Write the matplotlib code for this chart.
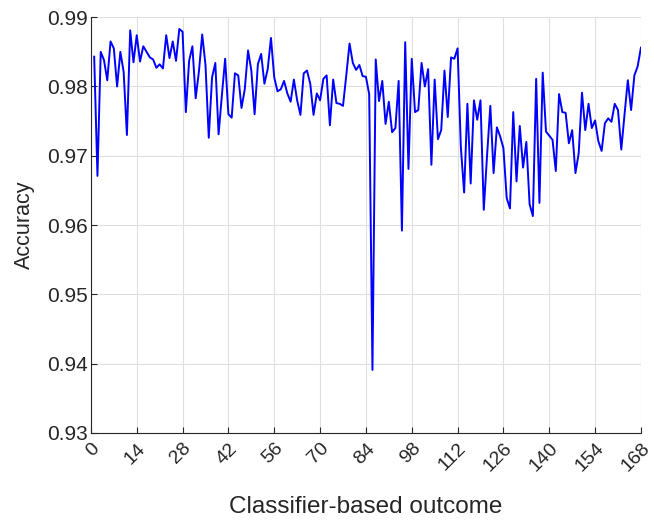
import matplotlib
matplotlib.use("Agg")
import matplotlib.pyplot as plt
import numpy as np

outcome = list(range(1, 169))
accuracy = [
    0.9843, 0.9671, 0.9850, 0.9838, 0.9809, 0.9865, 0.9855, 0.9800, 0.9850, 0.9821,
    0.9730, 0.9881, 0.9835, 0.9874, 0.9836, 0.9858, 0.9850, 0.9842, 0.9839, 0.9827,
    0.9832, 0.9826, 0.9874, 0.9841, 0.9865, 0.9837, 0.9883, 0.9879, 0.9763, 0.9837,
    0.9858, 0.9783, 0.9822, 0.9875, 0.9831, 0.9726, 0.9813, 0.9834, 0.9731, 0.9787,
    0.9840, 0.9760, 0.9755, 0.9819, 0.9816, 0.9769, 0.9796, 0.9852, 0.9823, 0.9760,
    0.9832, 0.9847, 0.9804, 0.9825, 0.9870, 0.9813, 0.9793, 0.9796, 0.9808, 0.9790,
    0.9778, 0.9810, 0.9780, 0.9759, 0.9819, 0.9823, 0.9804, 0.9759, 0.9790, 0.9780,
    0.9811, 0.9816, 0.9744, 0.9810, 0.9776, 0.9775, 0.9772, 0.9816, 0.9862, 0.9834,
    0.9824, 0.9831, 0.9815, 0.9814, 0.9789, 0.9391, 0.9839, 0.9779, 0.9808, 0.9746,
    0.9778, 0.9734, 0.9740, 0.9808, 0.9592, 0.9864, 0.9681, 0.9840, 0.9763, 0.9766,
    0.9834, 0.9800, 0.9825, 0.9687, 0.9810, 0.9724, 0.9737, 0.9823, 0.9756, 0.9842,
    0.9840, 0.9855, 0.9712, 0.9647, 0.9775, 0.9660, 0.9780, 0.9752, 0.9780, 0.9622,
    0.9700, 0.9772, 0.9675, 0.9741, 0.9728, 0.9711, 0.9639, 0.9624, 0.9763, 0.9663,
    0.9743, 0.9683, 0.9720, 0.9630, 0.9613, 0.9811, 0.9632, 0.9820, 0.9735, 0.9729,
    0.9723, 0.9678, 0.9789, 0.9763, 0.9762, 0.9718, 0.9737, 0.9675, 0.9704, 0.9791,
    0.9737, 0.9775, 0.9740, 0.9751, 0.9721, 0.9707, 0.9747, 0.9754, 0.9749, 0.9775,
    0.9766, 0.9709, 0.9760, 0.9809, 0.9766, 0.9816, 0.9829, 0.9856,
]
xticks = list(range(0, 169, 14))
yticks = [0.93, 0.94, 0.95, 0.96, 0.97, 0.98, 0.99]

plt.rcParams['font.family'] = ['Liberation Sans', 'DejaVu Sans']
text_color = '#262626'

fig = plt.figure(figsize=(6.54, 5.21), dpi=100)
ax = fig.add_axes([0.139, 0.169, 0.841, 0.798])
ax.plot(outcome, accuracy, color=(0, 0, 1), linewidth=1.4)

ax.set_xlim(0, 168)
ax.set_ylim(0.93, 0.99)
ax.set_xticks(xticks)
ax.set_yticks(yticks)
ax.set_yticklabels([f"{v:.2f}" for v in yticks])
ax.set_xticklabels([str(v) for v in xticks], rotation=45, ha='right', va='top',
                   rotation_mode='anchor')
ax.grid(True, color='#dfdfdf', linewidth=0.8)
ax.set_axisbelow(True)
for s in ['top', 'right']:
    ax.spines[s].set_visible(False)
for s in ['left', 'bottom']:
    ax.spines[s].set_color(text_color)
    ax.spines[s].set_linewidth(0.8)
ax.tick_params(direction='in', length=4, width=0.8, colors=text_color,
               labelsize=15, pad=2)
ax.tick_params(axis='x', labelsize=14, pad=5)
ax.set_xlabel('Classifier-based outcome', fontsize=17.5, color=text_color, labelpad=15)
ax.set_ylabel('Accuracy', fontsize=15.5, color=text_color, labelpad=9)

fig.savefig('out.png', dpi=100)
